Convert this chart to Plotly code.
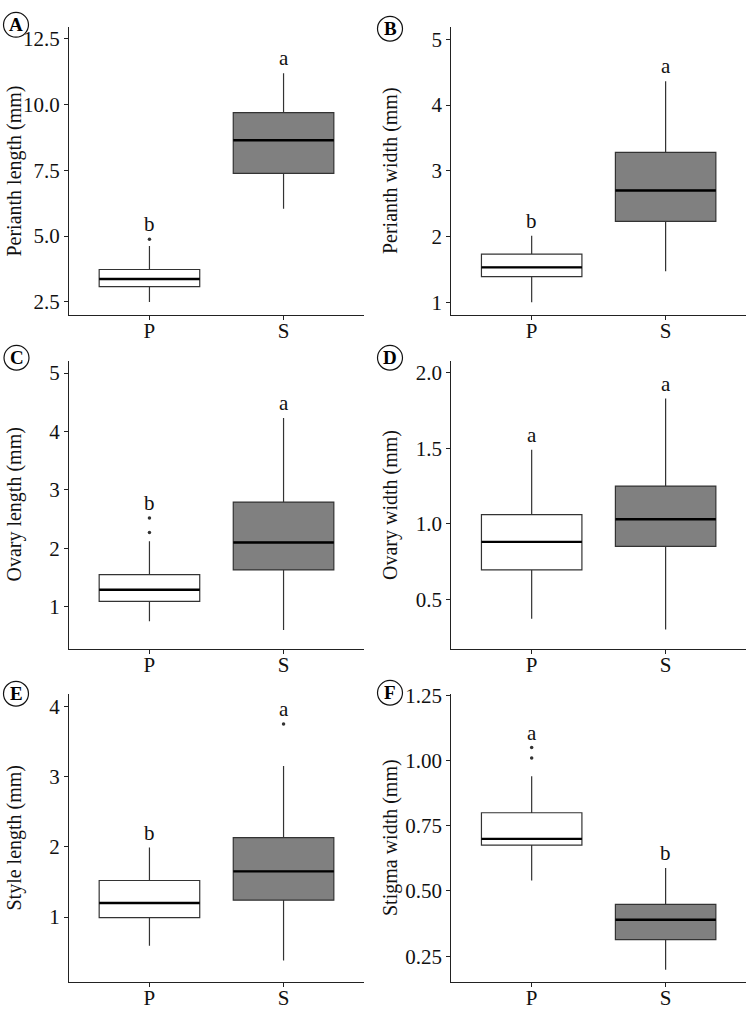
import plotly.graph_objects as go

# ---------------- data ----------------
panel_ids = ["A", "B", "C", "D", "E", "F"]
y_titles = ["Perianth length (mm)", "Perianth width (mm)", "Ovary length (mm)",
            "Ovary width (mm)", "Style length (mm)", "Stigma width (mm)"]
groups = ["P", "S"]

# [P, S] for each statistic
lower_A = [2.50, 6.04]; q1_A = [3.08, 7.38]; med_A = [3.37, 8.64]; q3_A = [3.73, 9.69]; upper_A = [4.62, 11.19]
out_A = [[4.88], []]; let_A = ["b", "a"]

lower_B = [1.00, 1.47]; q1_B = [1.39, 2.23]; med_B = [1.53, 2.70]; q3_B = [1.73, 3.28]; upper_B = [2.01, 4.36]
out_B = [[], []]; let_B = ["b", "a"]

lower_C = [0.75, 0.60]; q1_C = [1.09, 1.63]; med_C = [1.29, 2.10]; q3_C = [1.55, 2.79]; upper_C = [2.12, 4.23]
out_C = [[2.27, 2.52], []]; let_C = ["b", "a"]

lower_D = [0.37, 0.30]; q1_D = [0.695, 0.85]; med_D = [0.88, 1.03]; q3_D = [1.06, 1.25]; upper_D = [1.49, 1.83]
out_D = [[], []]; let_D = ["a", "a"]

lower_E = [0.59, 0.38]; q1_E = [0.99, 1.24]; med_E = [1.20, 1.65]; q3_E = [1.52, 2.13]; upper_E = [1.99, 3.15]
out_E = [[], [3.75]]; let_E = ["b", "a"]

lower_F = [0.54, 0.198]; q1_F = [0.676, 0.314]; med_F = [0.70, 0.39]; q3_F = [0.80, 0.449]; upper_F = [0.94, 0.588]
out_F = [[1.01, 1.05], []]; let_F = ["a", "b"]

ticks_A = [2.5, 5.0, 7.5, 10.0, 12.5]; ticklab_A = ["2.5", "5.0", "7.5", "10.0", "12.5"]
ticks_B = [1, 2, 3, 4, 5]; ticklab_B = ["1", "2", "3", "4", "5"]
ticks_C = [1, 2, 3, 4, 5]; ticklab_C = ["1", "2", "3", "4", "5"]
ticks_D = [0.5, 1.0, 1.5, 2.0]; ticklab_D = ["0.5", "1.0", "1.5", "2.0"]
ticks_E = [1, 2, 3, 4]; ticklab_E = ["1", "2", "3", "4"]
ticks_F = [0.25, 0.50, 0.75, 1.00, 1.25]; ticklab_F = ["0.25", "0.50", "0.75", "1.00", "1.25"]

panels = [
    (lower_A, q1_A, med_A, q3_A, upper_A, out_A, let_A, ticks_A, ticklab_A, [1.99, 12.95]),
    (lower_B, q1_B, med_B, q3_B, upper_B, out_B, let_B, ticks_B, ticklab_B, [0.80, 5.19]),
    (lower_C, q1_C, med_C, q3_C, upper_C, out_C, let_C, ticks_C, ticklab_C, [0.27, 5.21]),
    (lower_D, q1_D, med_D, q3_D, upper_D, out_D, let_D, ticks_D, ticklab_D, [0.168, 2.08]),
    (lower_E, q1_E, med_E, q3_E, upper_E, out_E, let_E, ticks_E, ticklab_E, [0.07, 4.18]),
    (lower_F, q1_F, med_F, q3_F, upper_F, out_F, let_F, ticks_F, ticklab_F, [0.15, 1.256]),
]

# ---------------- layout geometry (pixels) ----------------
W, H = 750, 1010
col_x = [(69, 364), (451.3, 746)]
row_y = [(17, 309), (355, 647), (692, 984)]
title_x = [14.5, 390]
circle_c = [(16, 15), (390, 19), (16.5, 352), (390, 352), (16, 692), (390, 691)]
BOXW = 0.75
FONT = "Liberation Serif"
fills = ["#ffffff", "#808080"]
edge = "#333333"

fig = go.Figure()
layout = dict(
    width=W, height=H, margin=dict(l=0, r=0, t=0, b=0),
    plot_bgcolor="white", paper_bgcolor="white", showlegend=False,
    font=dict(family=FONT, size=20, color="#111111"),
)
annotations = []
shapes = []

for i, (lo, q1, md, q3, up, outs, lets, tv, tl, yr) in enumerate(panels):
    r, c = divmod(i, 2)
    ax = "" if i == 0 else str(i + 1)
    xref, yref = "x" + ax, "y" + ax
    xs = list(range(len(groups)))
    for g in xs:
        fig.add_trace(go.Box(
            x=[xs[g]], q1=[q1[g]], median=[md[g]], q3=[q3[g]],
            lowerfence=[lo[g]], upperfence=[up[g]],
            width=BOXW, whiskerwidth=0, boxpoints=False,
            fillcolor=fills[g], line=dict(color=edge, width=1.2),
            xaxis=xref, yaxis=yref, hoverinfo="skip",
        ))
        # thicker median line
        fig.add_trace(go.Scatter(
            x=[xs[g] - BOXW / 2, xs[g] + BOXW / 2], y=[md[g], md[g]],
            mode="lines", line=dict(color="#000000", width=2.4),
            xaxis=xref, yaxis=yref, hoverinfo="skip",
        ))
        if outs[g]:
            fig.add_trace(go.Scatter(
                x=[xs[g]] * len(outs[g]), y=outs[g], mode="markers",
                marker=dict(color="#333333", size=3.5),
                xaxis=xref, yaxis=yref, hoverinfo="skip",
            ))
        top = max([up[g]] + outs[g])
        annotations.append(dict(
            x=xs[g], y=top, xref=xref, yref=yref, text=lets[g], showarrow=False,
            yanchor="middle", yshift=15, font=dict(family=FONT, size=21, color="#111"),
        ))

    x0, x1 = col_x[c]
    y0, y1 = row_y[r]
    xdom = [x0 / W, x1 / W]
    ydom = [1 - y1 / H, 1 - y0 / H]
    axis_common = dict(showgrid=False, zeroline=False, showline=True,
                       linecolor="#222", linewidth=1.1, ticks="outside",
                       ticklen=4, tickwidth=1.1, tickcolor="#222",
                       tickfont=dict(family=FONT, size=21, color="#111111"))
    layout["xaxis" + ax] = dict(domain=xdom, anchor=yref, range=[-0.6, 1.6],
                                tickvals=xs, ticktext=groups,
                                ticklabelstandoff=-8, **axis_common)
    layout["yaxis" + ax] = dict(domain=ydom, anchor=xref, range=yr,
                                tickvals=tv, ticktext=tl, **axis_common)
    # y-axis title
    annotations.append(dict(
        x=title_x[c] / W, y=1 - (y0 + y1) / 2 / H, xref="paper", yref="paper",
        text=y_titles[i], textangle=-90, showarrow=False,
        xanchor="center", yanchor="middle",
        font=dict(family=FONT, size=20, color="#111111"),
    ))
    # circled panel letter
    cx, cy = circle_c[i]
    rad = 12.5
    shapes.append(dict(type="circle", xref="paper", yref="paper",
                       x0=(cx - rad) / W, x1=(cx + rad) / W,
                       y0=1 - (cy + rad) / H, y1=1 - (cy - rad) / H,
                       line=dict(color="#111", width=1.2), fillcolor="rgba(0,0,0,0)"))
    annotations.append(dict(
        x=cx / W, y=1 - cy / H, xref="paper", yref="paper",
        text="<b>" + panel_ids[i] + "</b>", showarrow=False,
        xanchor="center", yanchor="middle",
        font=dict(family=FONT, size=19, color="#000"),
    ))

layout["annotations"] = annotations
layout["shapes"] = shapes
fig.update_layout(**layout)
fig.write_html("out.html", config={"displayModeBar": False},
               post_script="document.body.style.margin='0';document.body.style.overflow='hidden';")
